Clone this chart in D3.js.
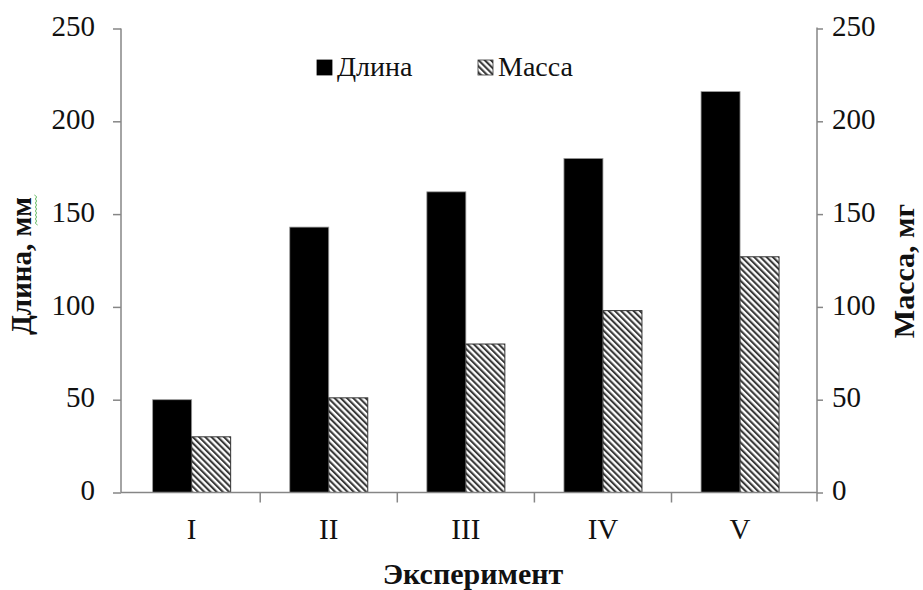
<!DOCTYPE html>
<html>
<head>
<meta charset="utf-8">
<script src="https://cdn.jsdelivr.net/npm/d3@7"></script>
<style>
  html, body { margin: 0; padding: 0; background: #fff; }
  svg { display: block; }
  svg text { font-family: "Liberation Serif", "Times New Roman", serif; fill: #111; }
</style>
</head>
<body>
<svg id="chart" width="923" height="590"></svg>
<script>
// Experiments on the x axis
const categories = ["I", "II", "III", "IV", "V"];
// Length, mm (left axis)
const lengthValues = [50, 143, 162, 180, 216];
// Mass, mg (right axis)
const massValues = [30, 51, 80, 98, 127];
// Tick values shared by both vertical axes
const yTicks = [0, 50, 100, 150, 200, 250];
const seriesNames = ["Длина", "Масса"];

const FONT = "'Liberation Serif', 'Times New Roman', serif";
const svg = d3.select("#chart");
const axisColor = "#868686";

const yTop = 28.5, yBottom = 492.5;
const axisLeftX = 121, axisRightX = 817;

const x = d3.scaleBand()
  .domain(categories)
  .range([123.1, 808.6])
  .paddingInner(0.431)
  .paddingOuter(0.2155);

const xSub = d3.scaleBand()
  .domain(seriesNames)
  .range([0, x.bandwidth()]);

const yLeft = d3.scaleLinear().domain([0, 250]).range([yBottom, yTop]);
const yRight = d3.scaleLinear().domain([0, 250]).range([yBottom, yTop]);

// Hatch pattern for the mass bars
const defs = svg.append("defs");
defs.append("pattern")
  .attr("id", "hatch")
  .attr("patternUnits", "userSpaceOnUse")
  .attr("width", 4.4)
  .attr("height", 4.4)
  .attr("patternTransform", "rotate(-45)")
  .call(p => {
    p.append("rect").attr("width", 4.4).attr("height", 4.4).attr("fill", "#fff");
    p.append("rect").attr("x", 0).attr("width", 2.1).attr("height", 4.4).attr("fill", "#3a3a3a");
  });

// Bars
const groups = svg.append("g").selectAll("g")
  .data(categories)
  .join("g")
  .attr("transform", d => `translate(${x(d)},0)`);

groups.append("rect")
  .attr("x", xSub("Длина"))
  .attr("width", xSub.bandwidth())
  .attr("y", (d, i) => yLeft(lengthValues[i]))
  .attr("height", (d, i) => yBottom - yLeft(lengthValues[i]))
  .attr("fill", "#000")
  .attr("stroke", "#9a9a9a")
  .attr("stroke-width", 0.8);

groups.append("rect")
  .attr("x", xSub("Масса"))
  .attr("width", xSub.bandwidth())
  .attr("y", (d, i) => yRight(massValues[i]))
  .attr("height", (d, i) => yBottom - yRight(massValues[i]))
  .attr("fill", "url(#hatch)")
  .attr("stroke", "#333")
  .attr("stroke-width", 1);

// Left axis
const gL = svg.append("g")
  .attr("transform", `translate(${axisLeftX},0)`)
  .call(d3.axisLeft(yLeft).tickValues(yTicks).tickSize(8).tickPadding(18).tickSizeOuter(0));

// Right axis
const gR = svg.append("g")
  .attr("transform", `translate(${axisRightX},0)`)
  .call(d3.axisRight(yRight).tickValues(yTicks).tickSize(6).tickPadding(9).tickSizeOuter(0));

[gL, gR].forEach(g => {
  g.attr("font-family", null).attr("font-size", null);
  g.select(".domain").remove();
  g.selectAll(".tick line").attr("stroke", axisColor).attr("stroke-width", 1.5);
  g.selectAll(".tick text")
    .style("font-family", FONT)
    .style("font-size", "29px")
    .attr("fill", "#111")
    .attr("dy", "0.25em");
});

// Vertical axis lines
svg.append("line")
  .attr("x1", axisLeftX).attr("x2", axisLeftX)
  .attr("y1", yTop).attr("y2", yBottom)
  .attr("stroke", axisColor).attr("stroke-width", 1.5);
svg.append("line")
  .attr("x1", axisRightX).attr("x2", axisRightX)
  .attr("y1", yTop - 1).attr("y2", yBottom + 9)
  .attr("stroke", axisColor).attr("stroke-width", 1.5);

// Bottom axis
const gX = svg.append("g")
  .attr("transform", `translate(0,${yBottom})`)
  .call(d3.axisBottom(x).tickSize(0).tickPadding(26));
gX.attr("font-family", null).attr("font-size", null);
gX.select(".domain").remove();
gX.selectAll(".tick text")
  .style("font-family", FONT)
  .style("font-size", "29px")
  .attr("fill", "#111")
  .attr("dy", "0.71em");

svg.append("line")
  .attr("x1", axisLeftX).attr("x2", axisRightX)
  .attr("y1", yBottom).attr("y2", yBottom)
  .attr("stroke", axisColor).attr("stroke-width", 1.5);

// Category separator ticks
const boundaries = categories.slice(0, -1).map(c => x(c) + x.bandwidth() + x.step() * x.paddingInner() / 2);
svg.append("g").selectAll("line")
  .data(boundaries)
  .join("line")
  .attr("x1", d => d).attr("x2", d => d)
  .attr("y1", yBottom).attr("y2", yBottom + 10)
  .attr("stroke", axisColor).attr("stroke-width", 1.5);

// Axis titles
const title = (sel, size) => sel
  .attr("text-anchor", "middle")
  .style("font-family", FONT)
  .style("font-size", size + "px")
  .style("font-weight", "bold");

svg.append("text")
  .attr("transform", "translate(31,266) rotate(-90)")
  .call(title, 29)
  .text("Длина, мм");

svg.append("text")
  .attr("transform", "translate(914,271) rotate(-90)")
  .call(title, 30)
  .text("Масса, мг");

svg.append("text")
  .attr("x", 473)
  .attr("y", 584)
  .call(title, 30)
  .text("Эксперимент");

// Spell-check squiggle under "мм"
const squiggle = d3.range(0, 16).map(i => [36 + (i % 2 ? 1.6 : -1.6), 195 + i * 2]);
svg.append("path")
  .attr("d", d3.line().curve(d3.curveBasis)(squiggle))
  .attr("fill", "none")
  .attr("stroke", "#5cb85c")
  .attr("stroke-width", 1);

// Legend
const legend = svg.append("g");
const legendItems = [
  { name: seriesNames[0], x: 317, fill: "#000", stroke: "#000" },
  { name: seriesNames[1], x: 478, fill: "url(#hatch)", stroke: "#333" }
];
legendItems.forEach(it => {
  legend.append("rect")
    .attr("x", it.x).attr("y", 60)
    .attr("width", 15).attr("height", 15)
    .attr("fill", it.fill).attr("stroke", it.stroke).attr("stroke-width", 0.8);
  legend.append("text")
    .attr("x", it.x + 20).attr("y", 76)
    .style("font-family", FONT)
    .style("font-size", "28px")
    .text(it.name);
});
</script>
</body>
</html>
